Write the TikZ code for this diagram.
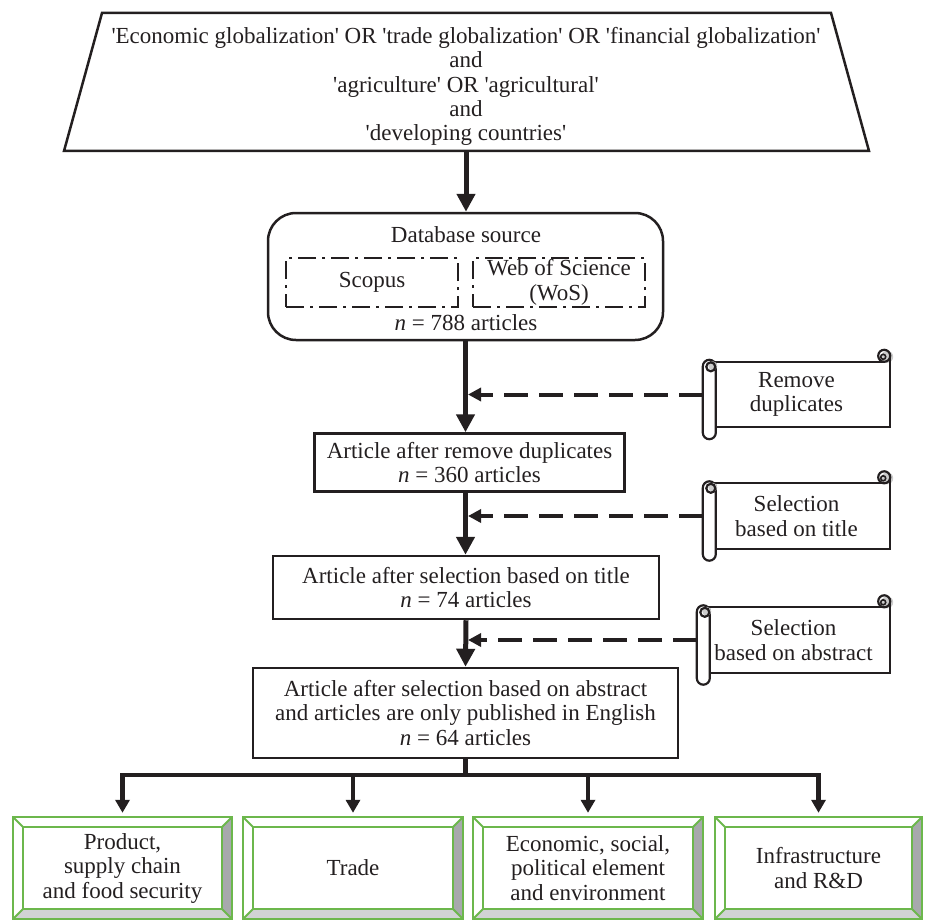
\documentclass[tikz,border=0pt]{standalone}
\usepackage{fontspec}
\setmainfont{Liberation Serif}[Ligatures=TeXOff]
\usetikzlibrary{arrows.meta,calc}
\definecolor{txt}{RGB}{35,31,32}
\definecolor{grn}{RGB}{108,183,76}
\definecolor{gdark}{RGB}{167,169,172}
\definecolor{glight}{RGB}{209,211,212}
\tikzset{
 base/.style={font=\fontsize{23}{24.5}\selectfont, text=txt, align=center, inner sep=0pt},
 box/.style={base, draw=txt, line width=2.5pt},
 ddbox/.style={base, draw=txt, line width=2pt, dash pattern=on 18pt off 6pt on 3pt off 6pt},
 mainarrow/.style={draw=txt, line width=5pt, -{Triangle[width=18pt,length=18pt]}},
 busline/.style={draw=txt, line width=4.5pt, line cap=rect},
 busarrow/.style={draw=txt, line width=4.5pt, -{Triangle[width=14pt,length=13pt]}, shorten >=4pt},
 dasharrow/.style={draw=txt, line width=4pt, dash pattern=on 24pt off 11pt, -{Triangle[width=13pt,length=13pt]}, shorten >=2.5pt},
 scrollbox/.style={base, minimum height=65pt},
 scrollline/.style={draw=txt, line width=2.2pt},
 greenbox/.style={base, minimum height=102pt},
 grnline/.style={draw=grn, line width=2pt},
}
\newcommand\scrolldeco[1]{%
 \fill[gray!40] ($(#1.north east)+(-3,-5)$) circle (6pt);
 \draw[scrollline] ($(#1.north west)+(8,0)$) -- ($(#1.north east)+(-6,0)$);
 \draw[scrollline] ($(#1.north east)+(0,-6)$) -- (#1.south east) -- ($(#1.south west)+(13,0)$);
 \draw[scrollline] ($(#1.north east)+(-6,-6)$) circle (6pt);
 \draw[draw=txt, line width=1.6pt] ($(#1.north east)+(-7,-5)$) circle (2.5pt);
 \draw[scrollline, fill=white, rounded corners=6.5pt] ($(#1.north west)+(0,-2)$) rectangle ($(#1.south west)+(13,12)$);
 \fill[gray!40] ($(#1.north west)+(10,4)$) circle (4.5pt);
 \draw[scrollline] ($(#1.north west)+(8,5)$) circle (4.5pt);
}
\newcommand\beveldeco[1]{%
 \fill[gdark] (#1.north east) -- (#1.south east) -- ($(#1.south east)+(-10,-10)$) -- ($(#1.north east)+(-10,10)$) -- cycle;
 \fill[glight] (#1.south west) -- (#1.south east) -- ($(#1.south east)+(-10,-10)$) -- ($(#1.south west)+(10,-10)$) -- cycle;
 \draw[grnline] (#1.north west) rectangle (#1.south east);
 \draw[grnline] ($(#1.north west)+(10,10)$) rectangle ($(#1.south east)+(-10,-10)$);
 \draw[grnline] (#1.north west) -- ($(#1.north west)+(10,10)$);
 \draw[grnline] (#1.north east) -- ($(#1.north east)+(-10,10)$);
 \draw[grnline] (#1.south west) -- ($(#1.south west)+(10,-10)$);
 \draw[grnline] (#1.south east) -- ($(#1.south east)+(-10,-10)$);
}
\begin{document}
\begin{tikzpicture}[x=1pt,y=-1pt]
\useasboundingbox (0,0) rectangle (928,920);
% top query
\coordinate (t1) at (102,13);
\coordinate (t2) at (831,13);
\coordinate (t3) at (869,151);
\coordinate (t4) at (64,151);
\draw[draw=txt, line width=2.5pt, line join=miter] (t1) -- (t2) -- (t3) -- (t4) -- cycle;
\node[base, font=\fontsize{23}{24.3}\selectfont] (q) at (466,86.5) {'Economic globalization' OR 'trade globalization' OR 'financial globalization'\\and\\'agriculture' OR 'agricultural'\\and\\'developing countries'};
\coordinate (qb) at (466,151);
% database
\node[box, rounded corners=28pt, minimum width=395pt, minimum height=127pt] (db) at (465.5,276.5) {};
\node[base] (dbt) at (466,235) {Database source};
\node[ddbox, minimum width=172pt, minimum height=49pt] (sc) at (372,282.5) {Scopus};
\node[ddbox, minimum width=172pt, minimum height=49pt] (ws) at (559,282.5) {Web of Science\\(WoS)};
\node[base] (n1) at (466,323) {\textit{n} = 788 articles};
% boxes
\node[box, minimum width=310pt, minimum height=58pt] (b2) at (469.5,462.5) {Article after remove duplicates\\\textit{n} = 360 articles};
\node[box, minimum width=386pt, minimum height=63pt] (b3) at (466,587.5) {Article after selection based on title\\\textit{n} = 74 articles};
\node[box, minimum width=425pt, minimum height=90pt] (b4) at (465.5,713) {Article after selection based on abstract\\and articles are only published in English\\\textit{n} = 64 articles};
% main arrows
\draw[mainarrow] (qb) -- (qb |- db.north);
\draw[mainarrow] (db.south) -- (db.south |- b2.north);
\draw[mainarrow] (db.south |- b2.south) -- (db.south |- b3.north);
\draw[mainarrow] (b3.south) -- (b4.north);
% scrolls
\node[scrollbox, minimum width=187pt] (s1) at (796.5,394.5) {Remove\\duplicates};
\scrolldeco{s1}
\node[scrollbox, minimum width=187pt] (s2) at (796.5,516) {Selection\\based on title};
\scrolldeco{s2}
\node[scrollbox, minimum width=193pt] (s3) at (793.5,640) {Selection\\based on abstract};
\scrolldeco{s3}
\draw[dasharrow] (s1.west) -- (s1.west -| db.south);
\draw[dasharrow] (s2.west) -- (s2.west -| db.south);
\draw[dasharrow] (s3.west) -- (s3.west -| db.south);
% bottom boxes
\node[greenbox, minimum width=219pt] (g1) at (122.5,868) {Product,\\supply chain\\and food security};
\node[greenbox, minimum width=220pt] (g2) at (353,868) {Trade};
\node[greenbox, minimum width=230pt] (g3) at (588,868) {Economic, social,\\political element\\and environment};
\node[greenbox, minimum width=207pt] (g4) at (818.5,868) {Infrastructure\\and R\&D};
\beveldeco{g1}
\beveldeco{g2}
\beveldeco{g3}
\beveldeco{g4}
% bus
\coordinate (bus) at (465.5,775);
\draw[busline] (b4.south) -- (bus);
\draw[busline] (g1.north |- bus) -- (g4.north |- bus);
\draw[busarrow] (g1.north |- bus) -- (g1.north);
\draw[busarrow] (g2.north |- bus) -- (g2.north);
\draw[busarrow] (g3.north |- bus) -- (g3.north);
\draw[busarrow] (g4.north |- bus) -- (g4.north);
\end{tikzpicture}
\end{document}
